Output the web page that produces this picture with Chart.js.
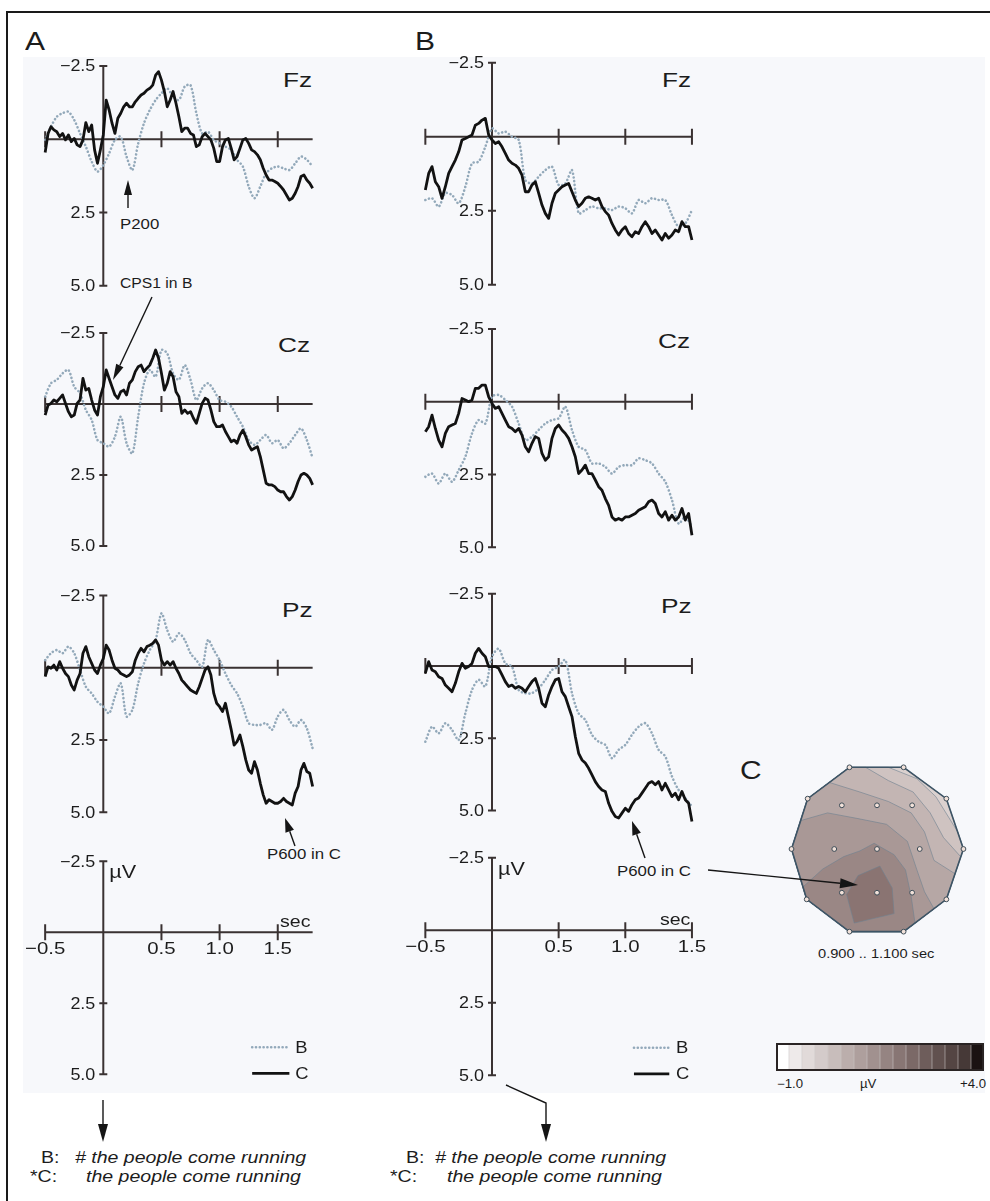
<!DOCTYPE html>
<html>
<head>
<meta charset="utf-8">
<title>ERP B vs C</title>
<script src="https://cdn.jsdelivr.net/npm/chart.js@4.4.1/dist/chart.umd.min.js"></script>
<style>
  html, body { margin: 0; padding: 0; background: #fff; }
  #page { position: relative; width: 990px; height: 1201px; overflow: hidden;
          font-family: "Liberation Sans", Arial, Helvetica, sans-serif; color: #1c1c1c; }
  #page canvas { position: absolute; }
  #tint { position: absolute; left: 23px; top: 57px; width: 962px; height: 1036px; background: #f7f8fb; }
  #frame { position: absolute; left: 6px; top: 11px; width: 990px; height: 1200px;
           border-top: 2px solid #1a1a1a; border-left: 2px solid #1a1a1a; }
  .tx { position: absolute; white-space: nowrap; line-height: 1; transform-origin: 0 0; }
  .it { font-style: italic; }
  #arrows { position: absolute; left: 0; top: 0; }
</style>
</head>
<body>
<div id="page">
  <div id="tint"></div>
  <div id="frame"></div>

  <div class="tx" style="left:25px;top:29px;font-size:25px;transform:scaleX(1.2)">A</div>
  <div class="tx" style="left:415px;top:29px;font-size:25px;transform:scaleX(1.2)">B</div>
  <div class="tx" style="left:740px;top:757px;font-size:26px;transform:scaleX(1.15)">C</div>

  <div class="tx" style="left:283px;top:69px;font-size:21px;transform:scaleX(1.25)">Fz</div>
  <div class="tx" style="left:278px;top:334px;font-size:21px;transform:scaleX(1.25)">Cz</div>
  <div class="tx" style="left:282px;top:599px;font-size:21px;transform:scaleX(1.25)">Pz</div>
  <div class="tx" style="left:662px;top:69px;font-size:21px;transform:scaleX(1.25)">Fz</div>
  <div class="tx" style="left:658px;top:330px;font-size:21px;transform:scaleX(1.25)">Cz</div>
  <div class="tx" style="left:661px;top:595px;font-size:21px;transform:scaleX(1.25)">Pz</div>

  <div class="tx" style="left:120px;top:217px;font-size:14px;transform:scaleX(1.2)">P200</div>
  <div class="tx" style="left:120px;top:276px;font-size:14px;transform:scaleX(1.12)">CPS1 in B</div>
  <div class="tx" style="left:267px;top:847px;font-size:14px;transform:scaleX(1.2)">P600 in C</div>
  <div class="tx" style="left:617px;top:864px;font-size:14px;transform:scaleX(1.2)">P600 in C</div>

  <div class="tx" style="left:818px;top:948px;font-size:12px;transform:scaleX(1.22)">0.900 .. 1.100 sec</div>
  <div class="tx" style="left:777px;top:1078px;font-size:12px;transform:scaleX(1.1)">−1.0</div>
  <div class="tx" style="left:860px;top:1078px;font-size:12px;transform:scaleX(1.1)">µV</div>
  <div class="tx" style="left:960px;top:1078px;font-size:12px;transform:scaleX(1.1)">+4.0</div>

  <div class="tx" style="left:41px;top:1150px;font-size:16px;transform:scaleX(1.22)">B:</div>
  <div class="tx it" style="left:75px;top:1150px;font-size:16px;transform:scaleX(1.22)"># the people come running</div>
  <div class="tx" style="left:30px;top:1169px;font-size:16px;transform:scaleX(1.22)">*C:</div>
  <div class="tx it" style="left:86px;top:1169px;font-size:16px;transform:scaleX(1.22)">the people come running</div>
  <div class="tx" style="left:406px;top:1150px;font-size:16px;transform:scaleX(1.22)">B:</div>
  <div class="tx it" style="left:435px;top:1150px;font-size:16px;transform:scaleX(1.22)"># the people come running</div>
  <div class="tx" style="left:390px;top:1169px;font-size:16px;transform:scaleX(1.22)">*C:</div>
  <div class="tx it" style="left:447px;top:1169px;font-size:16px;transform:scaleX(1.22)">the people come running</div>

  <svg id="arrows" width="990" height="1201"></svg>
</div>

<script>
// ---- sample times (sec) ----
const tFineA = [-0.5,-0.475,-0.45,-0.425,-0.4,-0.375,-0.35,-0.325,-0.3,-0.275,-0.25,-0.225,-0.2,-0.175,-0.15,-0.125,-0.1,-0.075,-0.05,-0.025,
  0,0.025,0.05,0.075,0.1,0.125,0.15,0.175,0.2,0.225,0.25,0.275,0.3,0.325,0.35,0.375,0.4,0.425,0.45,0.475,
  0.5,0.525,0.55,0.575,0.6,0.625,0.65,0.675,0.7,0.725,0.75,0.775,0.8,0.825,0.85,0.875,0.9,0.925,0.95,0.975,
  1,1.025,1.05,1.075,1.1,1.125,1.15,1.175,1.2,1.225,1.25,1.275,1.3,1.325,1.35,1.375,1.4,1.425,1.45,1.475,
  1.5,1.525,1.55,1.575,1.6,1.625,1.65,1.675,1.7,1.725,1.75,1.775,1.8];
const tCoarseA = [-0.5,-0.45,-0.4,-0.35,-0.3,-0.25,-0.2,-0.15,-0.1,-0.05,0,0.05,0.1,0.15,0.2,0.25,0.3,0.35,0.4,0.45,
  0.5,0.55,0.6,0.65,0.7,0.75,0.8,0.85,0.9,0.95,1,1.05,1.1,1.15,1.2,1.25,1.3,1.35,1.4,1.45,1.5,1.55,1.6,1.65,1.7,1.75,1.8];
const tFineB = tFineA.slice(0, 81);     // -0.5 .. 1.5
const tCoarseB = tCoarseA.slice(0, 41); // -0.5 .. 1.5

// ---- amplitudes in µV (negative plotted up) ----
// panel A, solid = condition C, dotted = condition B
const fzA_C = [0.45,-0.2,-0.43,-0.32,-0.26,-0.09,-0.2,0.02,-0.15,0.08,-0.03,0.19,0.25,0.02,-0.57,-0.26,-0.49,0.36,0.82,0.36,
  -0.15,-1.34,-1.0,-0.55,-0.2,-0.72,-0.89,-1.11,-1.23,-1.11,-1.11,-1.28,-1.4,-1.51,-1.57,-1.68,-1.74,-1.85,-2.19,-2.31,
  -2.02,-1.63,-1.11,-1.34,-1.63,-1.23,-0.77,-0.26,-0.38,-0.38,-0.2,-0.15,0.25,0.19,-0.09,-0.2,-0.09,0.02,0.31,0.76,
  0.76,0.25,0.02,-0.03,0.31,0.7,0.59,0.31,0.02,-0.03,0.14,0.36,0.42,0.53,0.7,0.99,1.22,1.39,1.39,1.44,
  1.5,1.61,1.73,1.9,2.07,2.01,1.84,1.61,1.27,1.22,1.39,1.5,1.67];
const fzA_B = [0.02,-0.43,-0.77,-0.89,-0.94,-0.66,-0.2,0.25,0.76,1.1,0.88,0.48,0.02,-0.09,0.59,1.05,0.14,-0.55,-1.0,-1.34,
  -1.57,-1.74,-1.45,-1.34,-1.8,-1.85,-0.89,-0.2,-0.26,0.02,0.14,0.25,0.36,0.7,0.93,1.61,2.01,1.61,1.16,0.99,
  0.93,0.99,1.05,0.82,0.59,0.7,0.93];
const czA_C = [0.39,0.04,-0.02,-0.14,-0.08,-0.2,-0.32,-0.02,0.27,0.45,0.39,-0.02,-0.14,-0.9,-0.49,-0.55,-0.14,0.21,0.39,-0.26,
  -0.61,-1.2,-0.9,-0.61,-0.32,-0.2,-0.43,-0.49,-0.32,-0.73,-0.85,-1.14,-1.31,-1.37,-1.14,-1.26,-1.37,-1.61,-1.9,-1.61,
  -1.08,-0.49,-0.73,-1.14,-0.96,-0.43,-0.26,0.33,0.21,0.33,0.27,0.5,0.68,0.33,-0.02,-0.2,-0.14,0.21,0.62,0.8,
  0.8,0.74,0.97,1.15,1.33,1.27,1.38,1.09,0.92,1.15,1.44,1.62,1.56,1.5,1.85,2.32,2.79,2.85,2.85,2.91,
  3.03,3.09,3.09,3.26,3.38,3.26,3.03,2.73,2.5,2.44,2.5,2.62,2.85];
const czA_B = [-0.26,-0.73,-0.85,-1.08,-1.2,-0.61,-0.38,0.21,0.56,1.27,1.38,1.5,1.15,0.45,1.38,1.74,0.45,-0.73,-1.2,-0.96,
  -1.9,-1.78,-1.08,-0.85,-1.37,-0.85,-0.14,-0.55,-0.73,-0.49,-0.14,-0.08,0.09,0.45,0.8,1.27,1.44,1.27,1.09,1.38,
  1.27,1.56,1.38,1.09,0.86,1.27,1.91];
const pzA_C = [0.31,-0.03,0.02,-0.09,0.08,-0.21,0.02,0.2,0.31,0.6,0.77,0.43,0.2,-0.5,-0.73,-0.38,-0.15,0.08,0.2,-0.09,
  -0.32,-0.78,-0.61,-0.26,0.02,0.08,0.2,0.25,0.31,0.25,0.14,-0.26,-0.5,-0.67,-0.55,-0.73,-0.78,-0.84,-0.96,-0.78,
  -0.26,-0.09,-0.21,-0.09,-0.21,0.02,0.2,0.43,0.54,0.66,0.77,0.83,0.89,0.66,0.37,0.08,-0.03,0.25,0.89,1.23,
  1.35,1.52,1.23,1.69,2.15,2.68,2.56,2.33,2.73,3.19,3.54,3.65,3.25,3.54,4.0,4.4,4.69,4.57,4.63,4.69,
  4.69,4.63,4.52,4.63,4.69,4.75,4.34,4.11,3.54,3.31,3.59,3.65,4.11];
const pzA_B = [-0.26,-0.5,-0.61,-0.5,-0.73,-0.5,0.08,0.66,0.89,1.18,1.35,1.58,1.0,0.54,1.69,1.46,0.54,-0.15,-0.61,-0.96,
  -1.88,-1.3,-0.9,-1.19,-0.96,-0.5,-0.26,-0.03,-0.96,-0.61,-0.26,0.2,0.6,0.89,1.35,1.92,1.98,1.98,1.92,2.15,
  1.69,1.46,1.81,2.04,1.81,2.1,2.79];

// panel B
const fzB_C = [1.8,1.24,1.01,1.52,1.69,2.08,1.69,1.24,1.01,0.79,0.51,0.11,0.06,0,-0.06,-0.39,-0.45,-0.56,-0.62,-0.06,
  0.11,0.23,0.17,0.34,0.56,0.79,0.9,0.96,1.07,1.3,1.86,1.86,1.63,1.52,1.91,2.31,2.59,2.76,2.25,1.91,
  1.8,1.69,1.63,1.58,1.86,2.14,2.36,2.25,2.08,2.03,2.08,2.14,2.08,2.36,2.53,2.65,2.93,3.15,3.32,3.15,
  3.04,3.27,3.38,3.21,3.27,3.04,2.87,3.04,3.27,3.15,3.32,3.49,3.27,3.43,3.32,3.15,3.21,2.87,3.04,3.04,
  3.49];
const fzB_B = [2.14,2.08,2.36,1.91,1.97,2.25,1.69,0.9,0.84,0.34,-0.28,-0.11,-0.17,0,0.11,1.46,1.58,1.35,1.13,1.01,
  1.63,1.58,1.13,2.59,2.48,2.36,2.42,2.42,2.48,2.36,2.42,2.59,2.14,2.25,2.08,2.14,2.14,2.65,3.04,2.93,
  2.48];
const czB_C = [1.03,0.86,0.46,0.92,1.32,1.55,1.09,0.86,0.8,0.75,0.4,-0.11,-0.06,0,-0.06,-0.46,-0.46,-0.57,-0.57,-0.17,
  0.06,0.23,0.17,0.4,0.63,0.86,0.92,1.03,0.92,1.15,1.55,1.72,1.43,1.2,1.26,1.78,2.01,1.89,1.26,0.92,
  0.8,0.97,1.09,1.26,1.55,1.89,2.47,2.35,2.18,2.47,2.47,2.69,2.92,3.04,3.33,3.56,3.96,4.07,4.01,4.07,
  3.96,3.96,3.9,3.84,3.73,3.67,3.61,3.44,3.38,3.5,3.84,3.96,3.78,4.07,3.9,4.07,3.96,3.67,4.07,3.84,
  4.59];
const czB_B = [2.58,2.47,2.81,2.47,2.75,2.35,1.89,1.09,0.63,0.75,-0.17,-0.23,-0.06,0.17,0.75,1.32,1.2,0.97,0.75,0.63,
  0.57,0.17,0.97,1.55,1.66,2.12,2.12,2.24,2.47,2.24,2.18,2.18,1.95,2.01,2.12,2.47,2.75,3.38,4.19,3.96,
  4.3];
const pzB_C = [0.25,-0.15,0.14,0.2,0.37,0.43,0.66,0.77,0.89,0.6,0.2,-0.09,0.08,0.02,-0.09,-0.44,-0.61,-0.44,-0.32,0.02,
  0.02,0.02,0.08,0.31,0.54,0.71,0.66,0.77,0.71,0.77,0.89,0.71,0.54,0.43,0.77,1.29,1.41,1.0,0.71,0.48,
  0.43,0.89,1.06,1.41,1.75,2.44,3.02,3.25,3.36,3.54,3.77,4.0,4.17,4.29,4.34,4.75,5.03,5.21,5.26,5.09,
  4.92,5.03,4.8,4.63,4.57,4.4,4.23,4.06,4.0,4.11,4.0,4.29,4.06,4.29,4.52,4.4,4.63,4.34,4.63,4.75,
  5.38];
const pzB_B = [2.62,2.1,2.33,1.98,2.21,2.56,1.64,0.83,0.48,0.71,-0.32,-0.6,-0.09,0.02,0.83,0.94,0.94,0.77,0.48,0.14,
  0.02,-0.21,0.94,1.64,1.87,2.38,2.62,2.73,3.19,2.9,2.73,2.38,2.1,1.98,2.33,2.9,3.13,3.82,4.29,4.57,
  4.86];

// ---- axis ticks ----
const yTickVals = [-2.5, 2.5, 5.0];
const yTickLabels = ['−2.5', '2.5', '5.0'];
const xTickVals = [-0.5, 0.5, 1.0, 1.5];
const xTickLabels = ['−0.5', '0.5', '1.0', '1.5'];

// ---- topographic map (head units, centre of the head, y up) ----
const headOutline = [[-29,86],[28,86],[73,53],[91,0],[73,-53],[28,-87],[-29,-87],[-74,-53],[-90,0],[-73,53],[-29,86]];
const contour1 = [[-29,86],[12,86],[42,74],[62,55],[85,18],[91,0],[73,-53],[28,-87],[-29,-87],[-74,-53],[-90,0],[-73,53],[-29,86]];
const contour2 = [[-29,86],[-12,86],[12,72],[38,60],[56,38],[70,12],[88,-8],[73,-53],[28,-87],[-29,-87],[-74,-53],[-90,0],[-73,53],[-29,86]];
const contour3 = [[-50,70],[-18,60],[12,50],[36,38],[50,18],[60,-12],[82,-26],[73,-53],[28,-87],[-29,-87],[-74,-53],[-90,0],[-73,53],[-50,70]];
const contour4 = [[-80,30],[-52,38],[-20,32],[10,26],[32,8],[42,-22],[50,-45],[60,-63],[28,-87],[-29,-87],[-74,-53],[-90,0],[-80,30]];
const contour5 = [[-78,-40],[-57,-21],[-35,-8],[-18,-2],[-3,6],[18,-6],[30,-22],[36,-50],[40,-78],[28,-87],[-29,-87],[-74,-53],[-78,-40]];
const contour6 = [[-20,-28],[3,-18],[16,-41],[18,-68],[-24,-78],[-32,-48],[-20,-28]];
const contourColors = ['#dbd1cf', '#cfc3c1', '#c3b5b3', '#b6a7a5', '#a99896', '#9a8785', '#8a7472'];
const electrodeX = [-29,28,73,91,73,28,-29,-74,-90,-73,-37,0,37,-45,0,45,-37,0,37];
const electrodeY = [86,86,53,0,-53,-87,-87,-53,0,53,46,46,46,0,0,0,-46,-46,-46];

// ---- colour bar (µV) ----
const cbLevels = [-1.0,-0.67,-0.33,0,0.33,0.67,1.0,1.33,1.67,2.0,2.33,2.67,3.0,3.33,3.67,4.0];
const cbCells = [1,1,1,1,1,1,1,1,1,1,1,1,1,1,1,1];
const cbColors = ['#ffffff','#eeeaea','#e1dad9','#d4cbca','#c8bdbb','#bbaeac','#ae9f9d','#a1918f','#958482','#887674',
  '#7b6967','#6e5d5b','#61514f','#544543','#463937','#1a1212'];

// ---- styles / layout ----
const SOLID_COLOR = '#121212';
const DOT_COLOR = '#93a9ba';
const AXIS_COLOR = '#3a3232';
const TEXT_COLOR = '#1c1c1c';
const Y_MIN = -3.2, Y_MAX = 5.6;
const PANEL_A = { x0: 103.3, pxPerSec: 116.3, xMin: -0.72, xMax: 1.95, xEnd: 1.8, secAt: 1.52 };
const PANEL_B = { x0: 492, pxPerSec: 133.3, xMin: -0.72, xMax: 1.75, xEnd: 1.5, secAt: 1.26 };
const ROWS_A = [{ y0: 139.3, ppu: 29.3 }, { y0: 404, ppu: 28.4 }, { y0: 667.7, ppu: 28.9 }, { y0: 932.3, ppu: 28.4 }];
const ROWS_B = [{ y0: 136.7, ppu: 29.6 }, { y0: 401.7, ppu: 29.1 }, { y0: 666, ppu: 28.9 }, { y0: 930.3, ppu: 29.0 }];

const page = document.getElementById('page');

function addCanvas(left, top, w, h) {
  const cv = document.createElement('canvas');
  cv.width = w; cv.height = h;
  cv.style.left = left + 'px'; cv.style.top = top + 'px';
  cv.style.width = w + 'px'; cv.style.height = h + 'px';
  page.insertBefore(cv, document.getElementById('arrows'));
  return cv;
}

function toPts(ts, vs) {
  const n = Math.min(ts.length, vs.length);
  const out = [];
  for (let i = 0; i < n; i++) out.push({ x: ts[i], y: vs[i] });
  return out;
}

function stretchText(ctx, text, x, y, size, sx, align, baseline) {
  ctx.save();
  ctx.font = size + 'px "Liberation Sans", Arial, sans-serif';
  ctx.textAlign = align;
  ctx.textBaseline = baseline;
  ctx.translate(x, y);
  ctx.scale(sx, 1);
  ctx.fillText(text, 0, 0);
  ctx.restore();
}

// crossed axes at (0 s, 0 µV), drawn from the chart's own scales
const erpAxes = {
  id: 'erpAxes',
  beforeDatasetsDraw(chart, args, o) {
    const { ctx } = chart;
    const xs = chart.scales.x, ys = chart.scales.y;
    const px = v => xs.getPixelForValue(v);
    const py = v => ys.getPixelForValue(v);
    const x0 = px(0), y0 = py(0);
    ctx.save();
    ctx.strokeStyle = AXIS_COLOR;
    ctx.lineWidth = 2;
    ctx.beginPath();
    ctx.moveTo(px(-0.5), y0); ctx.lineTo(px(o.xEnd), y0);
    ctx.moveTo(x0, py(yTickVals[0])); ctx.lineTo(x0, py(yTickVals[yTickVals.length - 1]));
    xTickVals.forEach(v => { ctx.moveTo(px(v), y0 - 8); ctx.lineTo(px(v), y0 + 8); });
    yTickVals.forEach(v => { ctx.moveTo(x0 - 4, py(v)); ctx.lineTo(x0 + 4, py(v)); });
    ctx.stroke();

    ctx.fillStyle = TEXT_COLOR;
    yTickVals.forEach((v, i) => stretchText(ctx, yTickLabels[i], x0 - 8, py(v) + 1, 16, 1.12, 'right', 'middle'));

    if (o.scaleRow) {
      xTickVals.forEach((v, i) => stretchText(ctx, xTickLabels[i], px(v), y0 + 17, 17, 1.2, 'center', 'middle'));
      stretchText(ctx, 'µV', x0 + 6, py(-2.5) + 17, 18, 1.2, 'left', 'alphabetic');
      stretchText(ctx, 'sec', px(o.secAt), y0 - 5, 17, 1.15, 'left', 'alphabetic');

      // legend: B dotted, C solid
      const lg = o.legend;
      const ds = chart.data.datasets;
      [ds[1], ds[0]].forEach((d, i) => {
        const yy = py(lg.y[i]);
        ctx.save();
        ctx.strokeStyle = d.borderColor;
        ctx.lineWidth = d.borderWidth;
        ctx.lineCap = d.borderCapStyle || 'butt';
        ctx.setLineDash(d.borderDash || []);
        ctx.beginPath();
        ctx.moveTo(px(lg.x[0]), yy); ctx.lineTo(px(lg.x[1]), yy);
        ctx.stroke();
        ctx.restore();
        ctx.fillStyle = TEXT_COLOR;
        stretchText(ctx, d.label, px(lg.textAt), yy + 1, 16, 1.15, 'left', 'middle');
      });
    }
    ctx.restore();
  }
};

function erpChart(panel, row, solid, dotted, tSolid, tDot, extra) {
  const left = Math.round(panel.x0 + panel.xMin * panel.pxPerSec);
  const width = Math.round((panel.xMax - panel.xMin) * panel.pxPerSec);
  const top = Math.round(row.y0 + Y_MIN * row.ppu);
  const height = Math.round((Y_MAX - Y_MIN) * row.ppu);
  const cv = addCanvas(left, top, width, height);
  const xMin = (left - panel.x0) / panel.pxPerSec;
  const xMax = (left + width - panel.x0) / panel.pxPerSec;
  const yMin = (top - row.y0) / row.ppu;
  const yMax = (top + height - row.y0) / row.ppu;
  return new Chart(cv, {
    type: 'line',
    data: {
      datasets: [
        { label: 'C', data: toPts(tSolid, solid), borderColor: SOLID_COLOR, borderWidth: 2.8,
          pointRadius: 0, tension: 0, clip: false, order: 0, borderJoinStyle: 'round' },
        { label: 'B', data: toPts(tDot, dotted), borderColor: DOT_COLOR, borderWidth: 2.6,
          borderDash: [0.1, 3.7], borderCapStyle: 'round', pointRadius: 0, tension: 0.3, clip: false, order: 1 }
      ]
    },
    options: {
      responsive: false, animation: false, devicePixelRatio: 1, events: [],
      layout: { padding: 0 },
      plugins: {
        legend: { display: false }, tooltip: { enabled: false },
        erpAxes: Object.assign({ xEnd: panel.xEnd, secAt: panel.secAt }, extra || {})
      },
      scales: {
        x: { type: 'linear', display: false, min: xMin, max: xMax },
        y: { type: 'linear', display: false, min: yMin, max: yMax, reverse: true }
      }
    },
    plugins: [erpAxes]
  });
}

// panel A
erpChart(PANEL_A, ROWS_A[0], fzA_C, fzA_B, tFineA, tCoarseA);
erpChart(PANEL_A, ROWS_A[1], czA_C, czA_B, tFineA, tCoarseA);
erpChart(PANEL_A, ROWS_A[2], pzA_C, pzA_B, tFineA, tCoarseA);
erpChart(PANEL_A, ROWS_A[3], [], [], [], [], { scaleRow: true, legend: { x: [1.28, 1.6], y: [4.05, 4.97], textAt: 1.65 } });
// panel B
erpChart(PANEL_B, ROWS_B[0], fzB_C, fzB_B, tFineB, tCoarseB);
erpChart(PANEL_B, ROWS_B[1], czB_C, czB_B, tFineB, tCoarseB);
erpChart(PANEL_B, ROWS_B[2], pzB_C, pzB_B, tFineB, tCoarseB);
erpChart(PANEL_B, ROWS_B[3], [], [], [], [], { scaleRow: true, legend: { x: [1.065, 1.33], y: [4.05, 4.95], textAt: 1.38 } });

// ---- topographic map ----
const xy = arr => arr.map(([x, y]) => ({ x, y }));
const contours = [headOutline, contour1, contour2, contour3, contour4, contour5, contour6];
const topoSets = contours.map((c, i) => ({
  data: xy(c), showLine: true, fill: 'shape', backgroundColor: contourColors[i],
  borderColor: 'rgba(110,130,145,0.75)', borderWidth: 0.8, pointRadius: 0, tension: 0, order: 20 - i
}));
topoSets.push({ data: xy(headOutline), showLine: true, fill: false, borderColor: '#3d5465', borderWidth: 1.6,
  pointRadius: 0, tension: 0, order: 2 });
topoSets.push({ data: electrodeX.map((x, i) => ({ x, y: electrodeY[i] })), showLine: false,
  pointRadius: 2.4, pointBackgroundColor: '#f1e1d9', pointBorderColor: '#3e4d58', pointBorderWidth: 1, order: 1 });

new Chart(addCanvas(777, 749, 200, 200), {
  type: 'scatter',
  data: { datasets: topoSets },
  options: {
    responsive: false, animation: false, devicePixelRatio: 1, events: [],
    layout: { padding: 0 },
    plugins: { legend: { display: false }, tooltip: { enabled: false } },
    scales: {
      x: { type: 'linear', display: false, min: -100, max: 100 },
      y: { type: 'linear', display: false, min: -100, max: 100 }
    }
  }
});

// ---- colour bar ----
const cbFrame = {
  id: 'cbFrame',
  afterDraw(chart) {
    const { ctx, chartArea: a } = chart;
    ctx.save();
    ctx.strokeStyle = '#2a2424';
    ctx.lineWidth = 2;
    ctx.strokeRect(a.left + 1, a.top + 1, a.right - a.left - 2, a.bottom - a.top - 2);
    ctx.restore();
  }
};
new Chart(addCanvas(776, 1043, 208, 28), {
  type: 'bar',
  data: { labels: cbLevels.map(String),
    datasets: [{ data: cbCells, backgroundColor: cbColors, borderColor: 'rgba(90,70,70,0.25)', borderWidth: 0.6,
      barPercentage: 1, categoryPercentage: 1 }] },
  options: {
    responsive: false, animation: false, devicePixelRatio: 1, events: [],
    layout: { padding: 0 },
    plugins: { legend: { display: false }, tooltip: { enabled: false } },
    scales: { x: { display: false }, y: { display: false, min: 0, max: 1 } }
  },
  plugins: [cbFrame]
});

// ---- annotation arrows ----
const svg = document.getElementById('arrows');
function arrow(pts, headLen, headW) {
  const NS = 'http://www.w3.org/2000/svg';
  const n = pts.length;
  const [xa, ya] = pts[n - 2], [xb, yb] = pts[n - 1];
  const len = Math.hypot(xb - xa, yb - ya);
  const ux = (xb - xa) / len, uy = (yb - ya) / len;
  const bx = xb - ux * headLen, by = yb - uy * headLen;
  const line = document.createElementNS(NS, 'polyline');
  const linePts = pts.slice(0, n - 1).concat([[bx, by]]);
  line.setAttribute('points', linePts.map(p => p.join(',')).join(' '));
  line.setAttribute('fill', 'none');
  line.setAttribute('stroke', '#151515');
  line.setAttribute('stroke-width', '1.4');
  svg.appendChild(line);
  const head = document.createElementNS(NS, 'polygon');
  const hx = -uy * headW / 2, hy = ux * headW / 2;
  head.setAttribute('points', `${xb},${yb} ${bx + hx},${by + hy} ${bx - hx},${by - hy}`);
  head.setAttribute('fill', '#151515');
  svg.appendChild(head);
}
arrow([[128, 208], [128, 180]], 15, 8);
arrow([[152, 297], [113, 380]], 16, 8);
arrow([[295, 846], [285, 818]], 14, 9);
arrow([[645, 858], [632, 821]], 14, 9);
arrow([[708, 870], [858, 885]], 18, 10);
arrow([[103, 1100], [103, 1142]], 18, 10);
arrow([[506, 1085], [546, 1103], [546, 1142]], 18, 10);
</script>
</body>
</html>
